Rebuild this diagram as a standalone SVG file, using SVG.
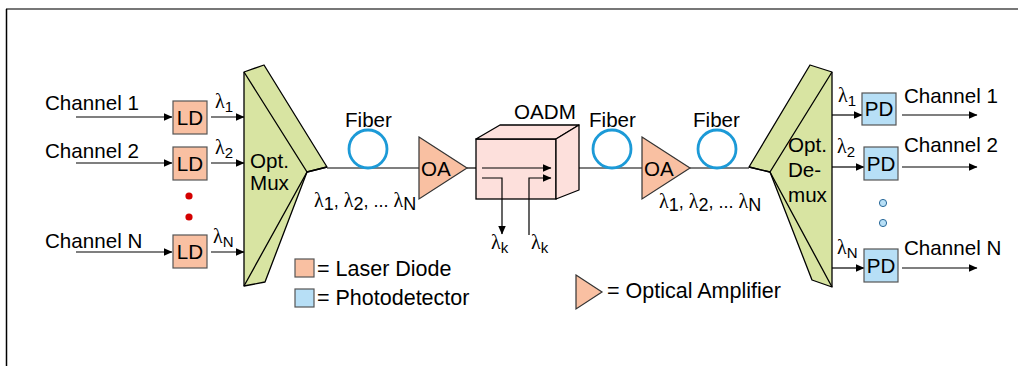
<svg xmlns="http://www.w3.org/2000/svg" width="1018" height="366" viewBox="0 0 1018 366">
<style>
text{font-family:"Liberation Sans",Arial,sans-serif;font-size:20.6px;fill:#000}
.lg{font-size:21.5px}
.lam{font-family:"Liberation Serif","Times New Roman",serif;font-size:20px}
.sub{font-family:"Liberation Sans",Arial,sans-serif;font-size:15px}
.subm{font-family:"Liberation Sans",Arial,sans-serif;font-size:18px}
.ld{fill:#f9c0a2;stroke:#555;stroke-width:1.2}
.pd{fill:#b7dff6;stroke:#555;stroke-width:1.2}
.prism{fill:#d8e4a2;stroke:#000;stroke-width:1.3;stroke-linejoin:round}
.oa{fill:#f9c0a2;stroke:#333;stroke-width:1.2}
.fib{fill:none;stroke:#1c9ad7;stroke-width:2.8}
.ln{fill:none;stroke:#000;stroke-width:1.2}
.ar{fill:none;stroke:#000;stroke-width:1.2;marker-end:url(#ah)}
.c{text-anchor:middle}
</style>
<defs>
<marker id="ah" markerWidth="9" markerHeight="8" refX="8.5" refY="4" orient="auto" markerUnits="userSpaceOnUse">
<path d="M0,0 L9,4 L0,8 Z" fill="#000"/>
</marker>
</defs>
<g id="frame">
<line x1="6" y1="9" x2="1018" y2="9" stroke="#777" stroke-width="2"/>
<line x1="6.5" y1="9" x2="6.5" y2="366" stroke="#000" stroke-width="1.5"/>
</g>
<g id="connectors">
<path class="ar" d="M76,117 H172"/>
<path class="ar" d="M76,163 H172"/>
<path class="ar" d="M76,252 H172"/>
<path class="ar" d="M211,117 H244"/>
<path class="ar" d="M211,163 H244"/>
<path class="ar" d="M211,252 H244"/>
<path class="ln" d="M327,168 H419"/>
<path class="ln" d="M467,168 H476"/>
<path class="ln" d="M579,168 H642"/>
<path class="ln" d="M690,168 H749"/>
<path class="ar" d="M832,115 H862"/>
<path class="ar" d="M832,167 H864"/>
<path class="ar" d="M832,268 H864"/>
<path class="ar" d="M902,115 H977"/>
<path class="ar" d="M902,167 H977"/>
<path class="ar" d="M902,268 H977"/>
</g>
<g id="inputs">
<text x="45" y="110">Channel 1</text>
<text x="45" y="158">Channel 2</text>
<text x="45" y="248">Channel N</text>
</g>
<g id="ld1"><rect class="ld" x="173" y="101" width="34" height="33"/><text class="c" x="190" y="125">LD</text></g>
<g id="ld2"><rect class="ld" x="173" y="147" width="34" height="33"/><text class="c" x="190" y="171">LD</text></g>
<g id="ldN"><rect class="ld" x="173" y="235" width="34" height="33"/><text class="c" x="190" y="259">LD</text></g>
<g id="reddots"><circle cx="189" cy="196" r="3.6" fill="#d40000"/><circle cx="189" cy="217" r="3.6" fill="#d40000"/></g>
<g id="lambdas-in">
<text x="215" y="108"><tspan class="lam">λ</tspan><tspan class="sub" dy="4">1</tspan></text>
<text x="215" y="154"><tspan class="lam">λ</tspan><tspan class="sub" dy="4">2</tspan></text>
<text x="213" y="243"><tspan class="lam">λ</tspan><tspan class="sub" dy="4">N</tspan></text>
</g>
<g id="mux">
<polygon class="prism" points="244,72 264,65 327,167 307,172 265,282 244,286"/>
<path class="ln" d="M244,72 L307,172 L244,286 M307,172 L327,167" style="stroke-width:1.3"/>
<text x="250" y="168">Opt.</text>
<text x="250" y="190">Mux</text>
</g>
<g id="fiber1"><circle class="fib" cx="368" cy="149" r="19"/><text x="345" y="127">Fiber</text></g>
<g id="oa1"><polygon class="oa" points="419,137 467,168 419,199"/><text x="421" y="176">OA</text></g>
<g id="lam-mid1"><text x="314" y="207"><tspan class="lam">λ</tspan><tspan class="subm" dy="3">1</tspan><tspan class="subm" dy="-3">, </tspan><tspan class="lam">λ</tspan><tspan class="subm" dy="3">2</tspan><tspan class="subm" dy="-3">, ... </tspan><tspan class="lam">λ</tspan><tspan class="subm" dy="3">N</tspan></text></g>
<g id="oadm">
<rect x="476" y="139" width="80" height="60" fill="#fde0dc" stroke="#000" stroke-width="1.3"/>
<polygon points="476,139 500,125 579,125 556,139" fill="#fde0dc" stroke="#000" stroke-width="1.3" stroke-linejoin="round"/>
<polygon points="556,139 579,125 579,190 556,199" fill="#fde0dc" stroke="#000" stroke-width="1.3" stroke-linejoin="round"/>
<text x="514" y="119">OADM</text>
<path class="ar" d="M482,168 H551"/>
<path class="ar" d="M482,178 H502 V234"/>
<path class="ar" d="M529,235 V178 H551"/>
<text x="491" y="249"><tspan class="lam">λ</tspan><tspan class="sub" dy="4">k</tspan></text>
<text x="531" y="249"><tspan class="lam">λ</tspan><tspan class="sub" dy="4">k</tspan></text>
</g>
<g id="fiber2"><circle class="fib" cx="612" cy="149" r="19"/><text x="589" y="127">Fiber</text></g>
<g id="oa2"><polygon class="oa" points="642,137 690,168 642,199"/><text x="644" y="176">OA</text></g>
<g id="fiber3"><circle class="fib" cx="717" cy="149" r="19"/><text x="693" y="127">Fiber</text></g>
<g id="lam-mid2"><text x="659" y="208"><tspan class="lam">λ</tspan><tspan class="subm" dy="3">1</tspan><tspan class="subm" dy="-3">, </tspan><tspan class="lam">λ</tspan><tspan class="subm" dy="3">2</tspan><tspan class="subm" dy="-3">, ... </tspan><tspan class="lam">λ</tspan><tspan class="subm" dy="3">N</tspan></text></g>
<g id="demux">
<polygon class="prism" points="832,72 810,65 749,167 770,172 812,280 832,287"/>
<path class="ln" d="M832,72 L770,172 L832,287 M770,172 L749,167" style="stroke-width:1.3"/>
<text x="788" y="152">Opt.</text>
<text x="788" y="177">De-</text>
<text x="788" y="202">mux</text>
</g>
<g id="lambdas-out">
<text x="838" y="102"><tspan class="lam">λ</tspan><tspan class="sub" dy="4">1</tspan></text>
<text x="837" y="153"><tspan class="lam">λ</tspan><tspan class="sub" dy="4">2</tspan></text>
<text x="837" y="254"><tspan class="lam">λ</tspan><tspan class="sub" dy="4">N</tspan></text>
</g>
<g id="pd1"><rect class="pd" x="862" y="93" width="34" height="32"/><text class="c" x="879" y="116">PD</text></g>
<g id="pd2"><rect class="pd" x="864" y="147" width="34" height="33"/><text class="c" x="881" y="171">PD</text></g>
<g id="pdN"><rect class="pd" x="864" y="249" width="34" height="33"/><text class="c" x="881" y="273">PD</text></g>
<g id="bluedots"><circle cx="883" cy="203" r="3.6" fill="#b7dff6" stroke="#2b6a9a" stroke-width="1"/><circle cx="883" cy="223" r="3.6" fill="#b7dff6" stroke="#2b6a9a" stroke-width="1"/></g>
<g id="outputs">
<text x="904" y="103">Channel 1</text>
<text x="904" y="152">Channel 2</text>
<text x="904" y="255">Channel N</text>
</g>
<g id="legend">
<rect class="ld" x="295" y="259" width="19" height="18"/>
<text class="lg" x="317" y="276">= Laser Diode</text>
<rect class="pd" x="295" y="289" width="19" height="18"/>
<text class="lg" x="317" y="305">= Photodetector</text>
<polygon class="oa" points="576,275 602,292 576,309"/>
<text class="lg" x="607" y="298">= Optical Amplifier</text>
</g>
</svg>
